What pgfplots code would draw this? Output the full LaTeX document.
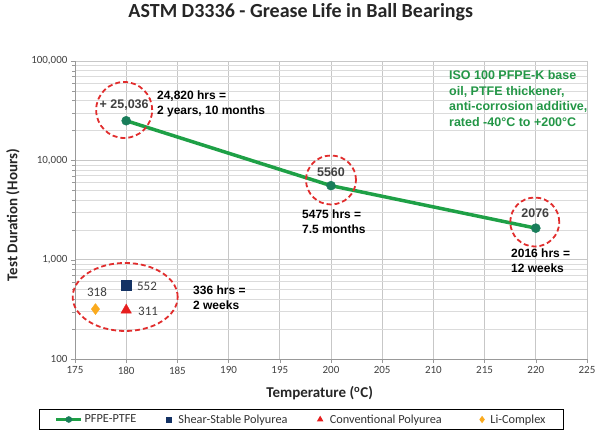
\documentclass[border=0pt]{standalone}
\usepackage{pgfplots}
\pgfplotsset{compat=1.18}
\usepackage{fontspec}
\setmainfont{Carlito}
\newfontfamily\arial{Liberation Sans}

\definecolor{lineGreen}{RGB}{30,160,70}
\definecolor{markGreen}{RGB}{25,125,90}
\definecolor{navySq}{RGB}{20,50,100}
\definecolor{redTri}{RGB}{230,30,30}
\definecolor{orangeD}{RGB}{250,170,30}
\definecolor{ringRed}{RGB}{225,45,45}
\definecolor{noteGreen}{RGB}{35,150,70}

\begin{document}
\begin{tikzpicture}
\path[use as bounding box] (-75pt,-73pt) rectangle (525pt,359pt);
\begin{axis}[
    at={(0pt,0pt)}, anchor=south west,
    scale only axis, width=512pt, height=298pt,
    xmin=175, xmax=225, ymode=log, ymin=100, ymax=100000,
    xtick={175,180,185,190,195,200,205,210,215,220,225},
    xticklabels={175,180,185,190,195,200,205,210,215,220,225},
    ytick={100,1000,10000,100000},
    yticklabels={100,{1,000},{10,000},{100,000}},
    minor ytick={200,300,400,500,600,700,800,900,2000,3000,4000,5000,6000,7000,8000,9000,20000,30000,40000,50000,60000,70000,80000,90000},
    xmajorgrids, ymajorgrids, yminorgrids,
    major grid style={black!22, line width=0.6pt},
    minor grid style={black!14, line width=0.5pt},
    axis lines*=left,
    axis line style={black!40, line width=0.6pt},
    tick align=outside, major tick length=4pt, minor tick length=2.5pt,
    tick style={black!40},
    ticklabel style={font=\fontsize{11}{13}\selectfont, text=black!75},
    title={ASTM D3336 - Grease Life in Ball Bearings},
    title style={at={(0.441,1.144)}, anchor=center, font=\bfseries\fontsize{20}{22}\selectfont, text=black!85},
    xlabel={Temperature (\textsuperscript{o}C)},
    xlabel style={at={(0.478,-0.114)}, anchor=center, font=\bfseries\fontsize{15}{17}\selectfont, text=black!85},
    ylabel={Test Duration (Hours)},
    ylabel style={at={(-0.121,0.483)}, anchor=center, font=\bfseries\fontsize{15}{17}\selectfont, text=black!85},
    clip=false,
    legend columns=4,
    legend cell align=left,
    legend style={at={(0.442,-0.203)}, anchor=center, draw=black, line width=0.8pt,
        font=\fontsize{12.3}{14}\selectfont, text=black!80,
        inner xsep=16pt, inner ysep=3pt},
]
\addplot[lineGreen, line width=3.5pt, mark=*, mark size=4.5pt,
    mark options={fill=markGreen, draw=markGreen, line width=0.5pt},
    legend image code/.code={\draw[mark repeat=2, mark phase=2, line width=2.5pt, mark size=3pt]
        plot coordinates {(0pt,0pt) (12.5pt,0pt) (25pt,0pt)};}]
    coordinates {(180,25036) (200,5560) (220,2076)};
\addlegendentry{PFPE-PTFE\rule{28pt}{0pt}}
\addplot[only marks, mark=square*, mark size=5pt, color=navySq,
    legend image post style={mark size=2.5pt}]
    coordinates {(180,552)};
\addlegendentry{\rule{5pt}{0pt}Shear-Stable Polyurea\rule{28pt}{0pt}}
\addplot[only marks, mark=triangle*, mark size=6pt, color=redTri,
    legend image post style={mark size=3pt}]
    coordinates {(180,311)};
\addlegendentry{\rule{5pt}{0pt}Conventional Polyurea\rule{36pt}{0pt}}
\addplot[only marks, mark=diamond*, mark size=5.5pt, color=orangeD,
    legend image post style={mark size=3pt}]
    coordinates {(177,318)};
\addlegendentry{\rule{4pt}{0pt}Li-Complex}

% dashed rings
\draw[ringRed, line width=1.8pt, dash pattern=on 5pt off 3pt] (axis cs:179.8,32120) ellipse (28pt and 28pt);
\draw[ringRed, line width=1.8pt, dash pattern=on 5pt off 3pt] (axis cs:200,6340) ellipse (25pt and 24.5pt);
\draw[ringRed, line width=1.8pt, dash pattern=on 5pt off 3pt] (axis cs:219.9,2393) ellipse (24.5pt and 24.5pt);
\draw[ringRed, line width=1.8pt, dash pattern=on 5pt off 3pt] (axis cs:179.9,421) ellipse (52.5pt and 34pt);

% value labels
\node[font=\arial\bfseries\fontsize{12.5}{14}\selectfont, text=black!75] at (axis cs:179.8,36000) {+ 25,036};
\node[font=\arial\bfseries\fontsize{12.5}{14}\selectfont, text=black!75] at (axis cs:200,7630) {5560};
\node[font=\arial\bfseries\fontsize{12.5}{14}\selectfont, text=black!75] at (axis cs:219.95,2951) {2076};
\node[font=\fontsize{13}{15}\selectfont, text=black!75, anchor=west, inner sep=0pt] at (axis cs:181.05,543) {552};
\node[font=\fontsize{13}{15}\selectfont, text=black!75, anchor=west, inner sep=0pt] at (axis cs:181.15,304) {311};
\node[font=\fontsize{13}{15}\selectfont, text=black!75, inner sep=0pt] at (axis cs:177.15,473) {318};

% notes
\node[font=\arial\bfseries\fontsize{12}{15}\selectfont, anchor=west, align=left, inner sep=0pt] at (axis cs:183.0,37300) {24,820 hrs =\\2 years, 10 months};
\node[font=\arial\bfseries\fontsize{12}{15}\selectfont, anchor=west, align=left, inner sep=0pt] at (axis cs:197.17,2420) {5475 hrs =\\7.5 months};
\node[font=\arial\bfseries\fontsize{12}{15}\selectfont, anchor=west, align=left, inner sep=0pt] at (axis cs:217.58,970) {2016 hrs =\\12 weeks};
\node[font=\arial\bfseries\fontsize{12}{15}\selectfont, anchor=west, align=left, inner sep=0pt] at (axis cs:186.52,416) {336 hrs =\\2 weeks};
\node[font=\arial\bfseries\fontsize{12.5}{15.7}\selectfont, text=noteGreen, anchor=west, align=left, inner sep=0pt] at (axis cs:211.52,41930) {ISO 100 PFPE-K base\\oil, PTFE thickener,\\anti-corrosion additive,\\rated -40°C to +200°C};
\end{axis}
\end{tikzpicture}
\end{document}
